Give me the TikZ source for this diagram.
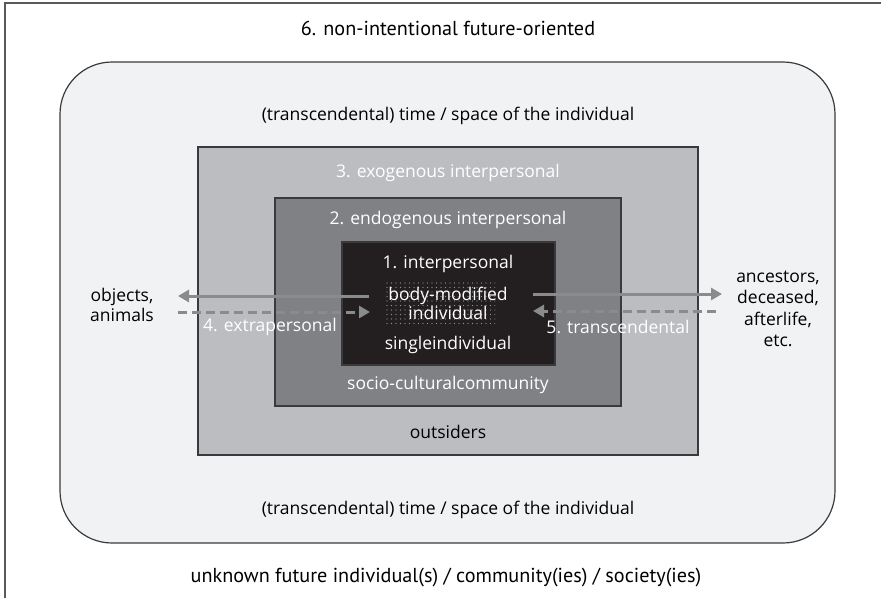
\documentclass[tikz,border=0pt]{standalone}
\usepackage{fontspec}
\setmainfont{Open Sans}
\newfontfamily\narrowfont{PT Sans}
\usetikzlibrary{arrows.meta,patterns.meta,positioning}
\definecolor{shellfill}{HTML}{F1F2F4}
\definecolor{outfill}{HTML}{BCBDC0}
\definecolor{endofill}{HTML}{808184}
\definecolor{corefill}{HTML}{231F20}
\definecolor{arrowgray}{HTML}{8A8B8D}
\definecolor{edgegray}{HTML}{3A3A3C}

\begin{document}
\begin{tikzpicture}[x=1pt, y=-1pt, >={Triangle[length=11pt,width=12pt]},
  every node/.style={font=\fontsize{17.5}{19}\selectfont},
  layer/.style={draw=edgegray, line width=1.6pt, inner sep=0pt},
  wtext/.style={text=white},
  edgetext/.style={font=\narrowfont\fontsize{20.2}{22}\selectfont},
  flow/.style={->, line width=3pt, draw=arrowgray},
  backflow/.style={flow, dash pattern=on 9pt off 5pt}]
  \useasboundingbox (0,0) rectangle (881,598);
  % Page frame (only left and top edges visible)
  \draw[line width=1.4pt, black!65] (5,598) -- (5,3) -- (881,3);
  % Nested layers
  \node[layer, fill=shellfill, rounded corners=52pt, line width=1.2pt,
        minimum width=775pt, minimum height=481pt] (shell) at (447.5,302.5) {};
  \node[layer, fill=outfill, minimum width=500pt, minimum height=308pt] (outer) at (448,301) {};
  \node[layer, fill=endofill, minimum width=346pt, minimum height=208pt] (endo) at (448,302) {};
  \node[layer, fill=corefill, minimum width=213pt, minimum height=123pt] (core) at (448.5,303.5) {};
  % Stippled patch behind the body label
  \fill[pattern={Dots[distance=4.5pt, radius=0.55pt]}, pattern color=gray!80] (383,282) rectangle (495,326);
  % Labels
  \node[edgetext] (future)  at (448,28)  {6. non-intentional future-oriented};
  \node (timetop)  at (448,116) {(transcendental) time / space of the individual};
  \node (timebot)  at (448,510) {(transcendental) time / space of the individual};
  \node[edgetext] (unknown) at (446,578) {unknown future individual(s) / community(ies) / society(ies)};
  \node[wtext] (exo)   at (448,173) {3. exogenous interpersonal};
  \node (outs)         at (448,432) {outsiders};
  \node[wtext] (endol) at (448,220) {2. endogenous interpersonal};
  \node[wtext] (socio) at (448,385) {socio-culturalcommunity};
  \node[wtext] (inter) at (448,264) {1. interpersonal};
  \node[wtext, align=center, font=\fontsize{17.5}{19}\selectfont] (body) at (448,303) {body-modified\\individual};
  \node[wtext] (single) at (448,345) {singleindividual};
  \node[align=center, font=\fontsize{17.5}{20}\selectfont] (objects) at (122,305) {objects,\\animals};
  \node[align=center, font=\fontsize{17.5}{21.5}\selectfont] (ancestors) at (778,309) {ancestors,\\deceased,\\afterlife,\\etc.};
  \node[wtext] (extra) at (270,327) {4. extrapersonal};
  \node[wtext] (trans) at (618,327) {5. transcendental};
  % Exchange arrows
  \coordinate (lout) at (178,296);
  \coordinate (lin)  at (370,312);
  \coordinate (rout) at (722,294);
  \coordinate (rin)  at (533,311);
  \draw[flow] (core.west |- lout) ++(28,0) -- (lout);
  \draw[backflow] (lout |- lin) -- (lin);
  \draw[flow] (rin |- rout) -- (rout);
  \draw[backflow] (rout |- rin) ++(-6,0) -- (rin);
\end{tikzpicture}
\end{document}
